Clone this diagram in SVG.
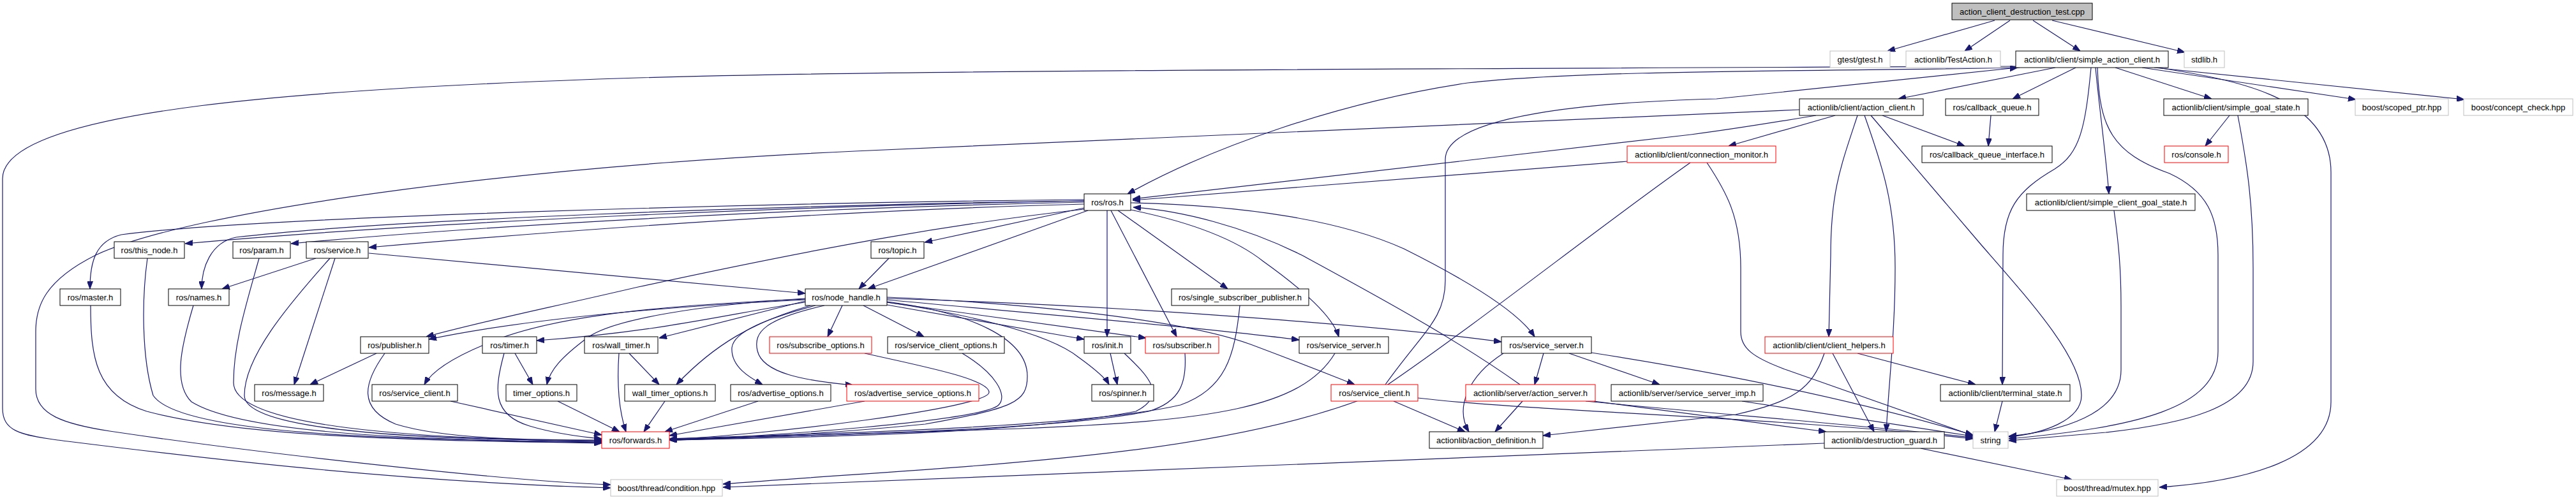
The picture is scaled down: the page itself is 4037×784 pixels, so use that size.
<svg xmlns="http://www.w3.org/2000/svg" width="4037" height="784" viewBox="0 0 4037 784">
<style>
.n rect{fill:#fff;stroke:#000;stroke-width:1}
.n.r rect{stroke:#ff0000}
.n.g rect{stroke:#bfbfbf}
.n.t rect{fill:#bfbfbf}
.n text{font-family:"Liberation Sans",Arial,Helvetica,sans-serif;font-size:13px;text-anchor:middle;fill:#000}
#edges path{fill:none;stroke:#191970;stroke-width:1.2;marker-end:url(#a)}
</style>
<defs>
<marker id="a" viewBox="0 0 12 9" refX="12" refY="4.5" markerWidth="12" markerHeight="9" markerUnits="userSpaceOnUse" orient="auto">
<path d="M0,0L12,4.5L0,9z" fill="#191970" stroke="#191970" stroke-width="1"/>
</marker>
</defs>
<rect x="0" y="0" width="4037" height="784" fill="#fff"/>
<g id="edges">
<path d="M3126,32 L2958,80"/>
<path d="M3150,32 L3079,80"/>
<path d="M3186,32 L3260,80"/>
<path d="M3216,32 L3424,82"/>
<path d="M3221,106 L2975,155"/>
<path d="M3253,106 L3154,155"/>
<path d="M3315,106 L3466,155"/>
<path d="M3357,106 L3692,156"/>
<path d="M3376,106 L3862,156"/>
<path d="M3284,106 C3290,170 3300,240 3305,304"/>
<path d="M3277,106 C3268,200 3260,240 3220,265 C3160,300 3139,330 3139,400 L3138,603"/>
<path d="M3287,106 C3290,200 3310,240 3400,272 C3460,300 3476,340 3476,400 L3476,551 C3476,640 3350,670 3148,688"/>
<path d="M3382,106 C3500,125 3653,150 3653,270 L3653,630 C3653,720 3520,755 3384,764"/>
<path d="M3165,106 C2900,112 2500,108 2300,130 C2100,160 1900,230 1767,304"/>
<path d="M3159,104 C2200,108 1400,110 1000,122 C500,138 4,170 4,280 L4,640 C4,675 30,682 90,690 C250,710 600,755 957,765"/>
<path d="M2820,172 L1340,237 C800,262 300,330 150,400 C70,440 56,480 56,520 L56,610 C56,650 100,665 172,676 C400,710 800,755 957,760"/>
<path d="M2846,181 C2780,192 2720,202 2650,211 L1775,312"/>
<path d="M2550,253 L1775,314"/>
<path d="M2876,181 L2709,229"/>
<path d="M2950,181 L3079,229"/>
<path d="M2911,181 C2885,260 2869,300 2869,400 L2866,528"/>
<path d="M2922,181 C2950,260 2970,320 2970,420 C2970,520 2960,600 2956,677"/>
<path d="M2932,181 L3105,384 C3180,470 3262,560 3262,620 C3262,660 3200,680 3148,685"/>
<path d="M3120,181 L3116,229"/>
<path d="M3494,181 L3456,229"/>
<path d="M3507,181 C3522,260 3531,320 3531,420 L3531,567 C3531,640 3420,665 3300,678 L3148,691"/>
<path d="M3313,330 C3320,380 3324,420 3324,480 L3324,580 C3324,650 3230,676 3148,684"/>
<path d="M2675,255 C2705,300 2728,340 2728,420 L2728,520 C2728,545 2745,560 2800,580 L3092,683"/>
<path d="M2649,255 C2500,360 2300,520 2150,620 C1900,720 1500,730 1133,759"/>
<path d="M2859,695 L1133,764"/>
<path d="M3010,703 L3247,752"/>
<path d="M3138,629 L3126,677"/>
<path d="M2911,554 L3096,603"/>
<path d="M2872,554 L2937,677"/>
<path d="M2859,554 C2840,610 2810,630 2720,650 L2418,683"/>
<path d="M2419,554 L2405,603"/>
<path d="M2459,554 L2601,603"/>
<path d="M2356,554 C2300,590 2280,640 2302,677"/>
<path d="M2494,553 C2700,585 2900,625 3092,682"/>
<path d="M2386,629 L2343,677"/>
<path d="M2485,629 C2700,650 2900,665 3092,686"/>
<path d="M2498,629 L2862,677"/>
<path d="M2382,603 C2280,530 2150,460 2040,400 C1950,355 1850,330 1776,325"/>
<path d="M1772,329 C1850,345 1930,370 1980,410 C2050,460 2090,500 2098,528"/>
<path d="M1772,318 C1950,322 2100,345 2200,390 C2300,440 2380,490 2405,528"/>
<path d="M2171,603 C2230,520 2265,500 2265,440 L2265,250 C2265,180 2500,160 2690,155 L3162,106"/>
<path d="M2184,629 L2296,677"/>
<path d="M2222,624 C2400,645 2800,655 3092,688"/>
<path d="M2730,629 L3092,684"/>
<path d="M2092,554 C2040,640 1900,660 1600,672 C1350,680 1150,686 1049,690"/>
<path d="M1943,479 C1935,560 1920,610 1850,635 C1700,670 1300,680 1049,688"/>
<path d="M1857,554 C1860,600 1850,630 1800,645 C1650,675 1300,682 1049,689"/>
<path d="M1762,554 C1800,590 1830,620 1780,645 C1600,680 1300,685 1049,690"/>
<path d="M1740,554 L1751,603"/>
<path d="M1390,474 C1500,490 1640,520 1690,560 C1715,578 1732,592 1738,603"/>
<path d="M1508,554 C1560,585 1580,620 1565,635 C1540,660 1200,685 1049,690"/>
<path d="M1355,554 C1450,575 1550,595 1550,615 C1550,640 1200,682 1049,689"/>
<path d="M1390,473 C1520,490 1610,530 1610,590 C1610,630 1590,640 1450,665 C1300,680 1150,688 1049,690"/>
<path d="M1355,629 L1049,683"/>
<path d="M1188,629 L1042,677"/>
<path d="M1042,629 L1009,677"/>
<path d="M970,554 C966,610 972,650 981,677"/>
<path d="M986,554 L1033,603"/>
<path d="M874,629 L971,677"/>
<path d="M807,554 L835,603"/>
<path d="M790,554 C775,610 770,650 830,668 C870,680 910,685 943,688"/>
<path d="M706,629 L943,682"/>
<path d="M590,554 L486,603"/>
<path d="M603,554 C570,600 560,640 620,665 C700,690 850,690 943,690"/>
<path d="M525,405 L461,603"/>
<path d="M517,405 C450,480 383,560 383,620 C383,680 700,690 943,691"/>
<path d="M495,405 L348,453"/>
<path d="M578,397 L1262,460"/>
<path d="M406,405 C385,480 366,540 366,600 C366,670 650,688 943,692"/>
<path d="M231,405 C222,470 222,560 240,620 C280,680 600,690 943,693"/>
<path d="M303,479 C285,540 270,600 300,630 C380,680 650,690 943,694"/>
<path d="M142,479 C142,560 150,620 230,645 C400,690 700,690 943,695"/>
<path d="M1699,315 C1300,322 700,345 290,382"/>
<path d="M1699,317 C1300,325 800,350 456,382"/>
<path d="M1699,320 C1300,330 900,360 578,388"/>
<path d="M1699,313 C1200,318 400,340 190,368 C150,378 141,410 141,453"/>
<path d="M1699,315 C1200,322 600,345 370,372 C330,380 316,420 316,453"/>
<path d="M1699,326 L1449,380"/>
<path d="M1705,330 L1360,453"/>
<path d="M1393,405 L1346,453"/>
<path d="M1699,328 C1500,350 1300,385 1000,450 C850,485 750,505 668,528"/>
<path d="M1735,330 L1735,528"/>
<path d="M1741,330 L1844,528"/>
<path d="M1752,330 L1924,453"/>
<path d="M1262,470 C1100,478 850,495 672,532"/>
<path d="M1262,469 C1000,480 850,500 760,540 C700,565 675,585 665,603"/>
<path d="M1262,472 L1033,530"/>
<path d="M1262,468 C1100,478 960,500 920,530 C880,560 862,580 857,603"/>
<path d="M1262,474 C1150,490 1040,520 841,534"/>
<path d="M1270,479 C1180,505 1120,540 1060,603"/>
<path d="M1278,479 C1200,500 1150,520 1147,545 C1145,575 1175,592 1195,603"/>
<path d="M1292,479 C1200,500 1180,520 1187,550 C1195,585 1260,597 1337,604"/>
<path d="M1320,479 L1297,528"/>
<path d="M1353,479 L1448,528"/>
<path d="M1390,478 L1699,532"/>
<path d="M1390,474 L1796,530"/>
<path d="M1390,470 C1600,490 1900,515 2036,533"/>
<path d="M1390,468 C1800,480 2200,515 2353,536"/>
<path d="M1390,466 C1600,475 1850,500 1960,540 C2040,570 2090,590 2123,603"/>
</g>
<g id="n0" class="n t"><rect x="3059" y="5" width="220" height="26"/><text x="3169" y="22.5">action_client_destruction_test.cpp</text></g>
<g id="n1" class="n g"><rect x="2868" y="80" width="94" height="26"/><text x="2915" y="97.5">gtest/gtest.h</text></g>
<g id="n2" class="n g"><rect x="2987" y="80" width="148" height="26"/><text x="3061" y="97.5">actionlib/TestAction.h</text></g>
<g id="n3" class="n"><rect x="3159" y="80" width="239" height="26"/><text x="3278.5" y="97.5">actionlib/client/simple_action_client.h</text></g>
<g id="n4" class="n g"><rect x="3423" y="80" width="63" height="26"/><text x="3454.5" y="97.5">stdlib.h</text></g>
<g id="n5" class="n"><rect x="2820" y="155" width="194" height="26"/><text x="2917" y="172.5">actionlib/client/action_client.h</text></g>
<g id="n6" class="n"><rect x="3049" y="155" width="146" height="26"/><text x="3122" y="172.5">ros/callback_queue.h</text></g>
<g id="n7" class="n"><rect x="3391" y="155" width="226" height="26"/><text x="3504" y="172.5">actionlib/client/simple_goal_state.h</text></g>
<g id="n8" class="n g"><rect x="3691" y="155" width="146" height="26"/><text x="3764" y="172.5">boost/scoped_ptr.hpp</text></g>
<g id="n9" class="n g"><rect x="3861" y="155" width="171" height="26"/><text x="3946.5" y="172.5">boost/concept_check.hpp</text></g>
<g id="n10" class="n r"><rect x="2550" y="229" width="233" height="26"/><text x="2666.5" y="246.5">actionlib/client/connection_monitor.h</text></g>
<g id="n11" class="n"><rect x="3012" y="229" width="204" height="26"/><text x="3114" y="246.5">ros/callback_queue_interface.h</text></g>
<g id="n12" class="n r"><rect x="3392" y="229" width="100" height="26"/><text x="3442" y="246.5">ros/console.h</text></g>
<g id="n13" class="n"><rect x="1699" y="304" width="73" height="26"/><text x="1735.5" y="321.5">ros/ros.h</text></g>
<g id="n14" class="n"><rect x="3176" y="304" width="264" height="26"/><text x="3308" y="321.5">actionlib/client/simple_client_goal_state.h</text></g>
<g id="n15" class="n"><rect x="179" y="379" width="110" height="26"/><text x="234" y="396.5">ros/this_node.h</text></g>
<g id="n16" class="n"><rect x="365" y="379" width="90" height="26"/><text x="410" y="396.5">ros/param.h</text></g>
<g id="n17" class="n"><rect x="480" y="379" width="97" height="26"/><text x="528.5" y="396.5">ros/service.h</text></g>
<g id="n18" class="n"><rect x="1365" y="379" width="83" height="26"/><text x="1406.5" y="396.5">ros/topic.h</text></g>
<g id="n19" class="n"><rect x="94" y="453" width="95" height="26"/><text x="141.5" y="470.5">ros/master.h</text></g>
<g id="n20" class="n"><rect x="264" y="453" width="95" height="26"/><text x="311.5" y="470.5">ros/names.h</text></g>
<g id="n21" class="n"><rect x="1262" y="453" width="128" height="26"/><text x="1326" y="470.5">ros/node_handle.h</text></g>
<g id="n22" class="n"><rect x="1836" y="453" width="215" height="26"/><text x="1943.5" y="470.5">ros/single_subscriber_publisher.h</text></g>
<g id="n23" class="n"><rect x="565" y="528" width="107" height="26"/><text x="618.5" y="545.5">ros/publisher.h</text></g>
<g id="n24" class="n"><rect x="756" y="528" width="85" height="26"/><text x="798.5" y="545.5">ros/timer.h</text></g>
<g id="n25" class="n"><rect x="916" y="528" width="115" height="26"/><text x="973.5" y="545.5">ros/wall_timer.h</text></g>
<g id="n26" class="n r"><rect x="1206" y="528" width="160" height="26"/><text x="1286" y="545.5">ros/subscribe_options.h</text></g>
<g id="n27" class="n"><rect x="1391" y="528" width="183" height="26"/><text x="1482.5" y="545.5">ros/service_client_options.h</text></g>
<g id="n28" class="n"><rect x="1699" y="528" width="73" height="26"/><text x="1735.5" y="545.5">ros/init.h</text></g>
<g id="n29" class="n r"><rect x="1795" y="528" width="115" height="26"/><text x="1852.5" y="545.5">ros/subscriber.h</text></g>
<g id="n30" class="n"><rect x="2036" y="528" width="140" height="26"/><text x="2106" y="545.5">ros/service_server.h</text></g>
<g id="n31" class="n"><rect x="2353" y="528" width="141" height="26"/><text x="2423.5" y="545.5">ros/service_server.h</text></g>
<g id="n32" class="n r"><rect x="2766" y="528" width="201" height="26"/><text x="2866.5" y="545.5">actionlib/client/client_helpers.h</text></g>
<g id="n33" class="n"><rect x="399" y="603" width="108" height="26"/><text x="453" y="620.5">ros/message.h</text></g>
<g id="n34" class="n"><rect x="583" y="603" width="134" height="26"/><text x="650" y="620.5">ros/service_client.h</text></g>
<g id="n35" class="n"><rect x="793" y="603" width="111" height="26"/><text x="848.5" y="620.5">timer_options.h</text></g>
<g id="n36" class="n"><rect x="979" y="603" width="142" height="26"/><text x="1050" y="620.5">wall_timer_options.h</text></g>
<g id="n37" class="n"><rect x="1145" y="603" width="157" height="26"/><text x="1223.5" y="620.5">ros/advertise_options.h</text></g>
<g id="n38" class="n r"><rect x="1327" y="603" width="207" height="26"/><text x="1430.5" y="620.5">ros/advertise_service_options.h</text></g>
<g id="n39" class="n"><rect x="1711" y="603" width="97" height="26"/><text x="1759.5" y="620.5">ros/spinner.h</text></g>
<g id="n40" class="n r"><rect x="2086" y="603" width="136" height="26"/><text x="2154" y="620.5">ros/service_client.h</text></g>
<g id="n41" class="n r"><rect x="2297" y="603" width="203" height="26"/><text x="2398.5" y="620.5">actionlib/server/action_server.h</text></g>
<g id="n42" class="n"><rect x="2525" y="603" width="238" height="26"/><text x="2644" y="620.5">actionlib/server/service_server_imp.h</text></g>
<g id="n43" class="n"><rect x="3041" y="603" width="203" height="26"/><text x="3142.5" y="620.5">actionlib/client/terminal_state.h</text></g>
<g id="n44" class="n r"><rect x="943" y="677" width="106" height="26"/><text x="996" y="694.5">ros/forwards.h</text></g>
<g id="n45" class="n"><rect x="2240" y="677" width="178" height="26"/><text x="2329" y="694.5">actionlib/action_definition.h</text></g>
<g id="n46" class="n"><rect x="2859" y="677" width="188" height="26"/><text x="2953" y="694.5">actionlib/destruction_guard.h</text></g>
<g id="n47" class="n g"><rect x="3092" y="677" width="55" height="26"/><text x="3119.5" y="694.5">string</text></g>
<g id="n48" class="n g"><rect x="957" y="752" width="175" height="26"/><text x="1044.5" y="769.5">boost/thread/condition.hpp</text></g>
<g id="n49" class="n g"><rect x="3223" y="752" width="159" height="26"/><text x="3302.5" y="769.5">boost/thread/mutex.hpp</text></g>
</svg>
